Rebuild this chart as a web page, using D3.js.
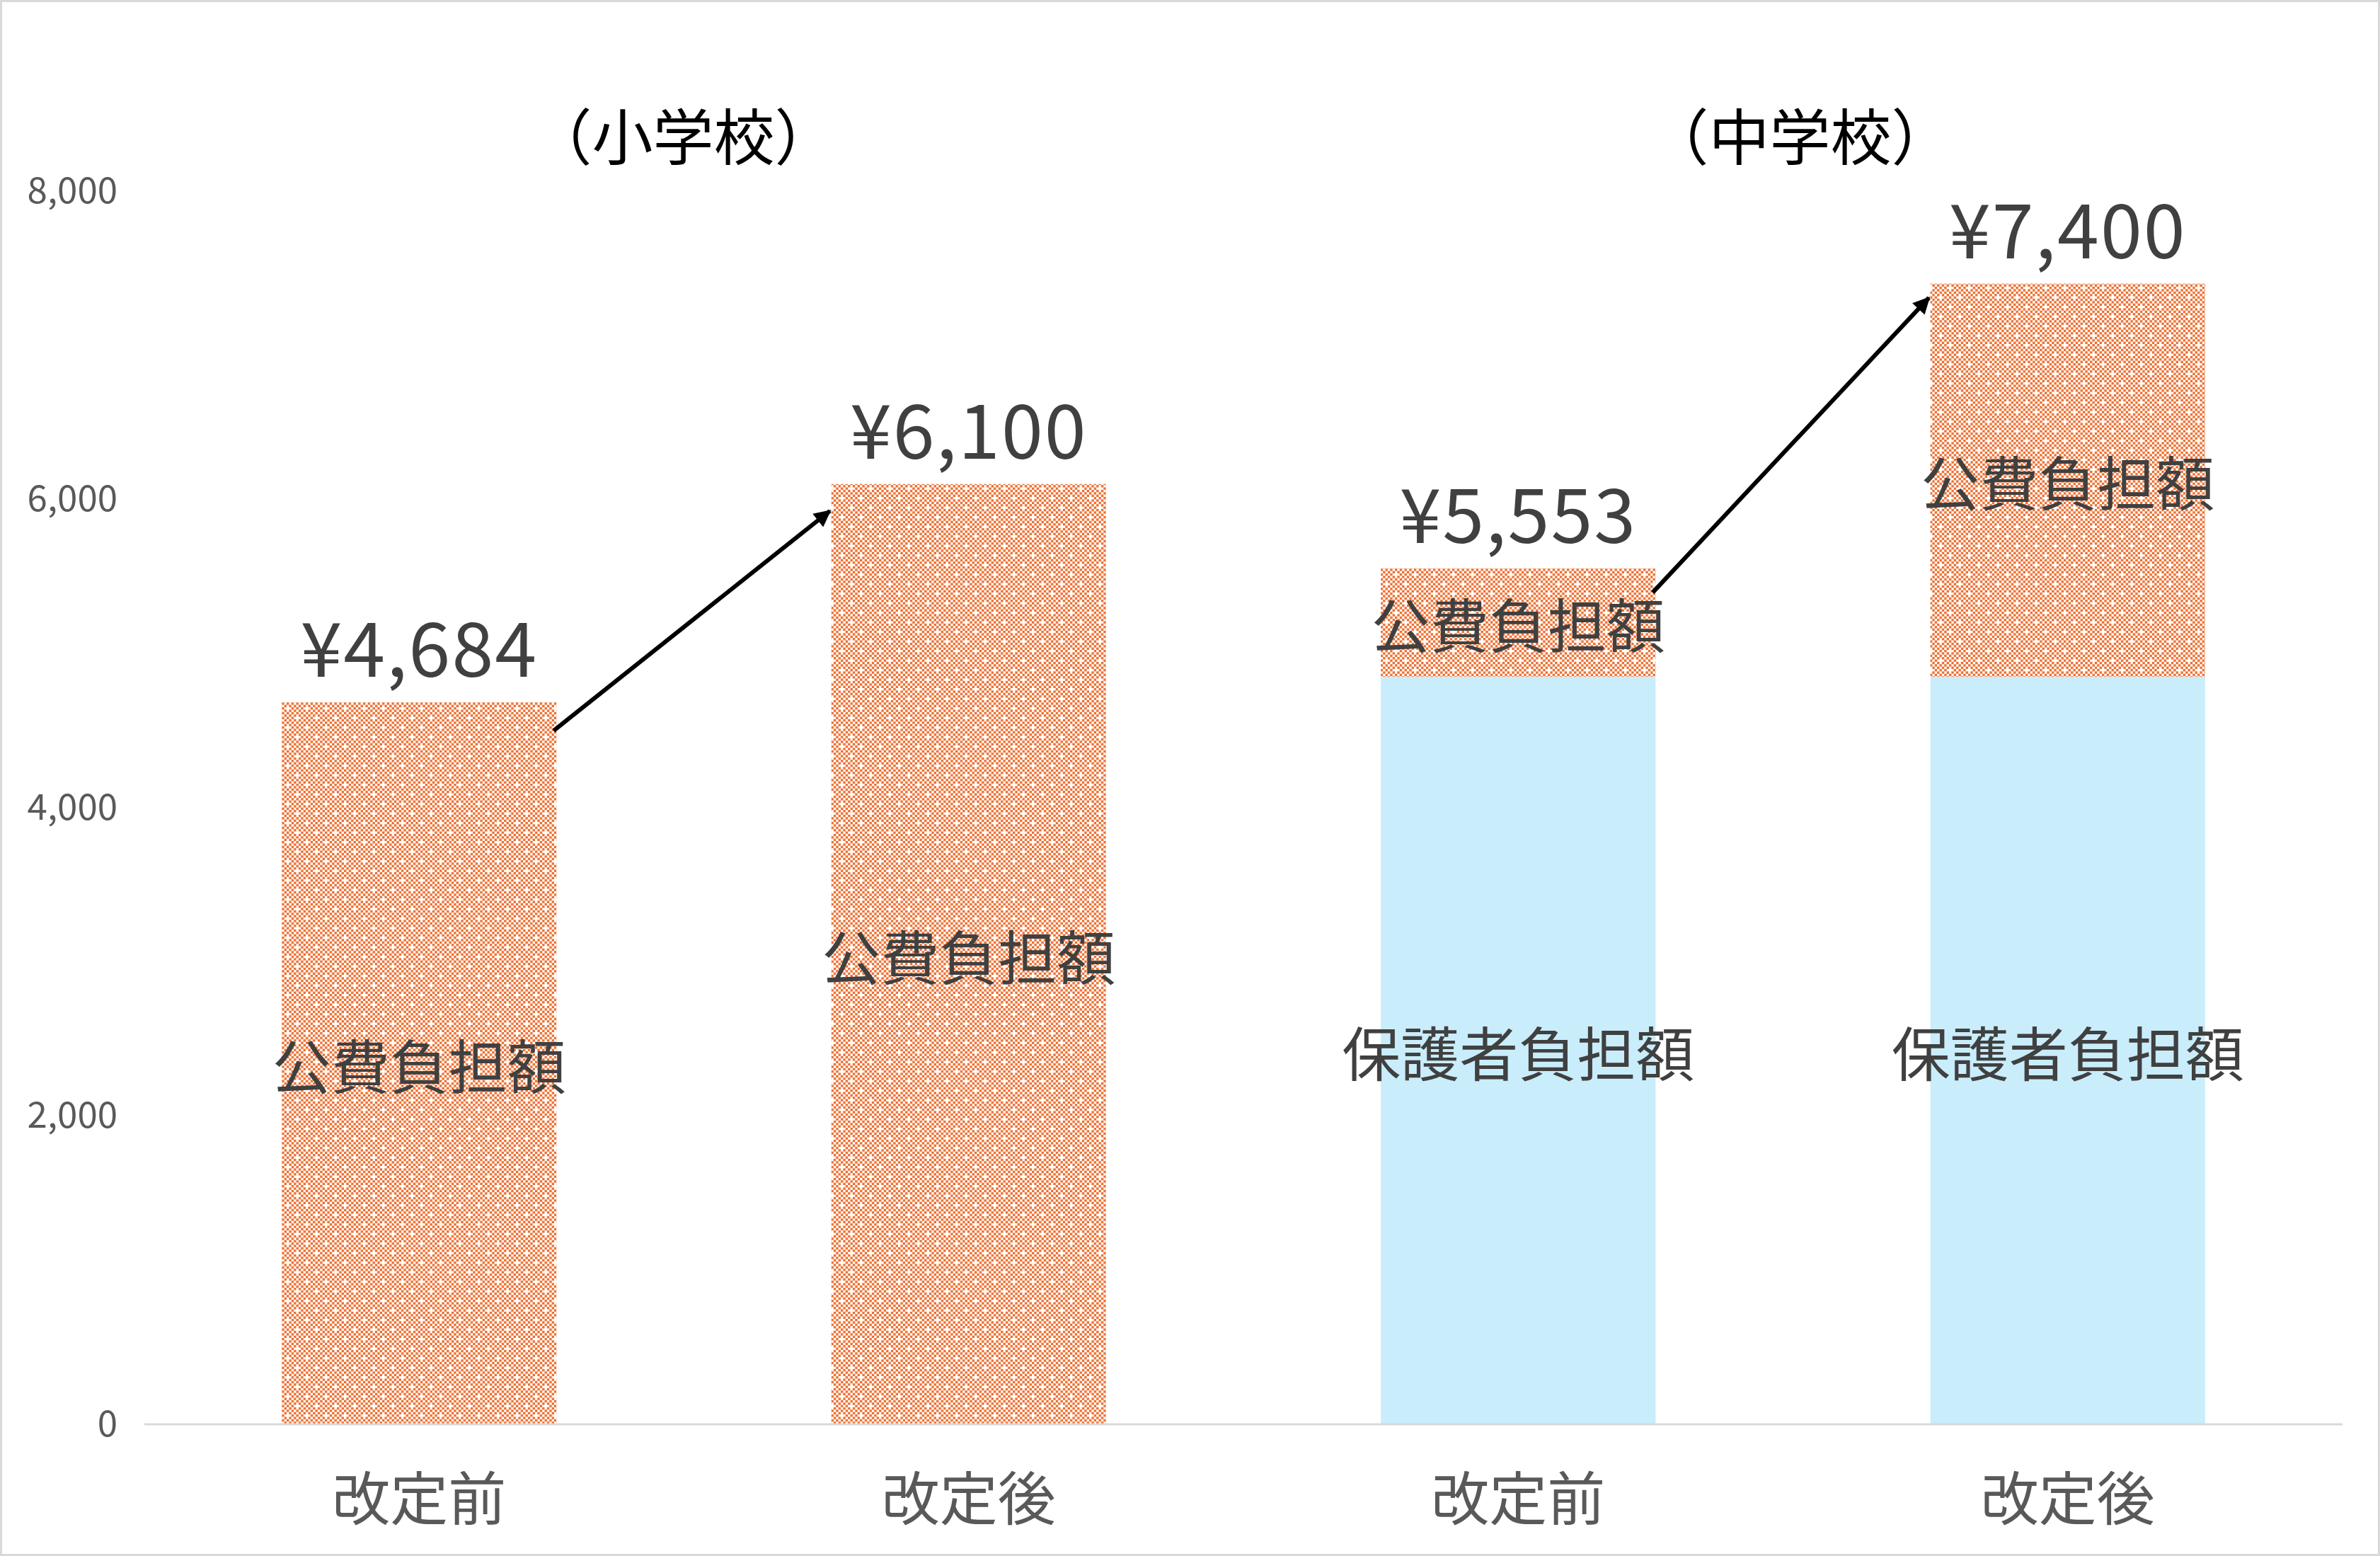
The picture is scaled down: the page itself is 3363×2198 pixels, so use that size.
<!DOCTYPE html>
<html>
<head>
<meta charset="utf-8">
<script src="https://cdn.jsdelivr.net/npm/d3@7"></script>
<style>
  html, body { margin: 0; padding: 0; background: #fff; }
  svg { display: block; }
</style>
</head>
<body>
<svg id="chart"></svg>
<script>
// data
const categories = ['改定前', '改定後', '改定前', '改定後'];
const groups = ['（小学校）', '（中学校）'];
const hogosha = [0, 0, 4850, 4850];       // 保護者負担額
const kohi = [4684, 6100, 703, 2550];      // 公費負担額
const totals = [4684, 6100, 5553, 7400];
const yTicks = [0, 2000, 4000, 6000, 8000];
const seriesNames = ['保護者負担額', '公費負担額'];

const width = 3363, height = 2198;
const padding = {top: 270, right: 53, bottom: 186, left: 204};

const svg = d3.select('#chart')
    .attr('width', width)
    .attr('height', height);

const font = "'Noto Sans CJK JP', 'Noto Sans', sans-serif";

// orange dotted pattern fill
const defs = svg.append('defs');
const cell = 27 / 8;
const pat = defs.append('pattern')
    .attr('id', 'dots')
    .attr('patternUnits', 'userSpaceOnUse')
    .attr('width', cell * 8)
    .attr('height', cell * 8);
pat.append('rect').attr('width', cell * 8).attr('height', cell * 8).attr('fill', '#fff');
const cells = [];
for (let i = 0; i < 8; i++) for (let j = 0; j < 8; j++) {
    if ((i + j) % 2 === 0 && !(i === 0 && j === 0) && !(i === 4 && j === 4)) cells.push([i, j]);
}
pat.selectAll('rect.c').data(cells).enter().append('rect')
    .attr('class', 'c')
    .attr('x', d => d[0] * cell)
    .attr('y', d => d[1] * cell)
    .attr('width', cell)
    .attr('height', cell)
    .attr('fill', '#ED7031');

// arrow head
defs.append('marker')
    .attr('id', 'arrow')
    .attr('viewBox', '0 0 10 10')
    .attr('refX', 9).attr('refY', 5)
    .attr('markerWidth', 4.5).attr('markerHeight', 4)
    .attr('markerUnits', 'strokeWidth')
    .attr('orient', 'auto')
    .append('path')
    .attr('d', 'M0,0 L10,5 L0,10 z')
    .attr('fill', '#000');

// outer border
svg.append('rect')
    .attr('x', 1.5).attr('y', 1.5)
    .attr('width', width - 3).attr('height', height - 3)
    .attr('fill', '#fff')
    .attr('stroke', '#d9d9d9')
    .attr('stroke-width', 3);

const xScale = d3.scaleBand()
    .domain(d3.range(categories.length))
    .range([padding.left, width - padding.right])
    .paddingInner(0.5)
    .paddingOuter(0.25);

const yScale = d3.scaleLinear()
    .domain([0, 8000])
    .range([height - padding.bottom, padding.top]);

const table = categories.map((c, i) => ({i: i, '保護者負担額': hogosha[i], '公費負担額': kohi[i]}));
const stack = d3.stack().keys(seriesNames)(table);
const fills = {'保護者負担額': '#C9EDFB', '公費負担額': 'url(#dots)'};

// y axis labels
const yAxis = d3.axisLeft(yScale)
    .tickValues(yTicks)
    .tickFormat(d3.format(','))
    .tickSize(0)
    .tickPadding(0);
const gy = svg.append('g')
    .attr('transform', `translate(166, 0)`)
    .call(yAxis);
gy.select('.domain').remove();
gy.selectAll('text')
    .attr('fill', '#595959')
    .style('font-family', font)
    .style('font-size', '51px');

// bars
const layers = svg.append('g').selectAll('g')
    .data(stack)
    .enter()
    .append('g')
    .attr('fill', d => fills[d.key]);

layers.selectAll('rect')
    .data(d => d)
    .enter()
    .append('rect')
    .attr('x', d => xScale(d.data.i))
    .attr('y', d => yScale(d[1]))
    .attr('width', xScale.bandwidth())
    .attr('height', d => yScale(d[0]) - yScale(d[1]));

// baseline
svg.append('line')
    .attr('x1', padding.left).attr('x2', width - padding.right)
    .attr('y1', yScale(0)).attr('y2', yScale(0))
    .attr('stroke', '#d9d9d9')
    .attr('stroke-width', 3);

// segment labels
stack.forEach(s => {
    svg.append('g').selectAll('text')
        .data(s.filter(d => d[1] - d[0] > 0))
        .enter()
        .append('text')
        .attr('x', d => xScale(d.data.i) + xScale.bandwidth() / 2)
        .attr('y', d => (yScale(d[0]) + yScale(d[1])) / 2)
        .attr('text-anchor', 'middle')
        .attr('dominant-baseline', 'central')
        .attr('fill', '#404040')
        .style('font-family', font)
        .style('font-size', '83px')
        .text(s.key);
});

// total labels
svg.append('g').selectAll('text')
    .data(totals)
    .enter()
    .append('text')
    .attr('x', (d, i) => xScale(i) + xScale.bandwidth() / 2)
    .attr('y', d => yScale(d) - 82)
    .attr('text-anchor', 'middle')
    .attr('dominant-baseline', 'central')
    .attr('fill', '#404040')
    .style('font-family', font)
    .style('font-size', '106px')
    .style('letter-spacing', '2px')
    .text(d => '¥' + d3.format(',')(d));

// category labels
svg.append('g').selectAll('text')
    .data(categories)
    .enter()
    .append('text')
    .attr('x', (d, i) => xScale(i) + xScale.bandwidth() / 2)
    .attr('y', yScale(0) + 99)
    .attr('text-anchor', 'middle')
    .attr('dominant-baseline', 'central')
    .attr('fill', '#595959')
    .style('font-family', font)
    .style('font-size', '82px')
    .text(d => d);

// group titles
const titleNudge = [-15, 10];
svg.append('g').selectAll('text')
    .data(groups)
    .enter()
    .append('text')
    .attr('x', (d, g) => (xScale(g * 2) + xScale(g * 2 + 1) + xScale.bandwidth()) / 2 + titleNudge[g])
    .attr('y', 188)
    .attr('text-anchor', 'middle')
    .attr('dominant-baseline', 'central')
    .attr('fill', '#000')
    .style('font-family', font)
    .style('font-size', '86px')
    .text(d => d);

// arrows between before / after
const arrows = [[0, 1, 40, 38], [2, 3, 34, 20]];
svg.append('g').selectAll('line')
    .data(arrows)
    .enter()
    .append('line')
    .attr('x1', d => xScale(d[0]) + xScale.bandwidth() - 4)
    .attr('y1', d => yScale(totals[d[0]]) + d[2])
    .attr('x2', d => xScale(d[1]) - 2)
    .attr('y2', d => yScale(totals[d[1]]) + d[3])
    .attr('stroke', '#000')
    .attr('stroke-width', 6)
    .attr('marker-end', 'url(#arrow)');
</script>
</body>
</html>
